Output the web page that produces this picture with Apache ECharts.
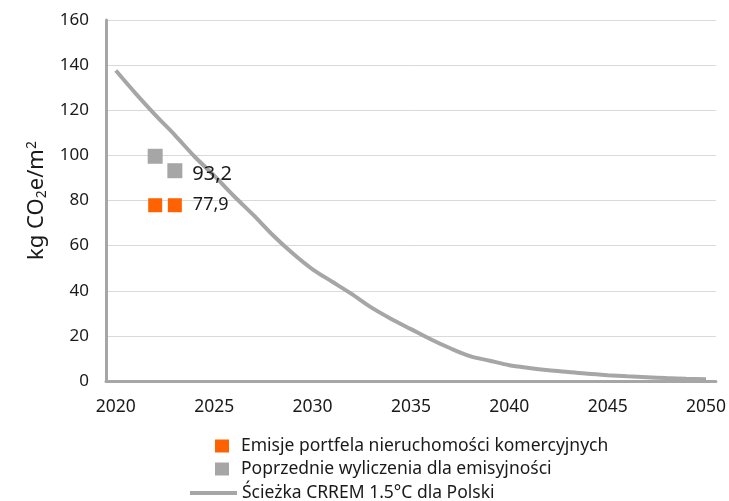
<!DOCTYPE html>
<html>
<head>
<meta charset="utf-8">
<script src="https://cdn.jsdelivr.net/npm/echarts@6/dist/echarts.min.js"></script>
<style>html,body{margin:0;padding:0;background:#fff;}#c{width:729px;height:501px;}</style>
</head>
<body>
<div id="c"></div>
<script>
const years = [];
for (let y = 2020; y <= 2050; y++) years.push(String(y));
const pathValues = [137.6, 127.5, 118, 109, 99.5, 91, 82, 73.5, 64.5, 56.5, 49.5, 44, 38.5, 32.5, 27.5, 23, 18.5, 14.5, 11, 9, 7, 5.8, 4.8, 4, 3.2, 2.6, 2.1, 1.7, 1.3, 1, 0.8];
const portfolioYears = ['2022', '2023'];
const portfolioValues = [77.9, 77.9];
const previousYears = ['2022', '2023'];
const previousValues = [99.6, 93.2];
const seriesNames = ['Emisje portfela nieruchomości komercyjnych', 'Poprzednie wyliczenia dla emisyjności', 'Ścieżka CRREM 1.5°C dla Polski'];

const FONT = 'Noto Sans';
const TXT = '#1a1a1a';
const fmt = v => String(v).replace('.', ',');

function pts(xs, vs, labelIdx, labelStyle) {
  return xs.map((x, i) => {
    const item = { value: [x, vs[i]] };
    if (i === labelIdx) item.label = Object.assign({ show: true, position: 'right', formatter: p => fmt(p.value[1]) }, labelStyle);
    return item;
  });
}

const legendText = { fontSize: 17.5, color: TXT, fontFamily: FONT };
const chart = echarts.init(document.getElementById('c'));
chart.setOption({
  animation: false,
  textStyle: { fontFamily: FONT },
  grid: { left: 106, right: 11, top: 20, bottom: 120 },
  legend: [
    { data: [seriesNames[0]], left: 210, top: 432, itemWidth: 14, itemHeight: 13, icon: 'rect', textStyle: Object.assign({ padding: [0, 0, 0, 7] }, legendText) },
    { data: [seriesNames[1]], left: 210, top: 455, itemWidth: 14, itemHeight: 13, icon: 'rect', textStyle: Object.assign({ padding: [0, 0, 0, 7] }, legendText) },
    { data: [seriesNames[2]], left: 185, top: 479, itemWidth: 47, itemHeight: 4, icon: 'rect', textStyle: Object.assign({ padding: [0, 0, 0, 0] }, legendText) }
  ],
  xAxis: {
    type: 'category', data: years, boundaryGap: true,
    axisLine: { lineStyle: { color: '#a6a6a6', width: 3 } },
    axisTick: { show: false },
    axisLabel: { interval: 4, color: TXT, fontSize: 17.5, margin: 17, fontFamily: FONT },
    splitLine: { show: false }
  },
  yAxis: {
    type: 'value', min: 0, max: 160, interval: 20,
    name: 'kg CO{sub|2}e/m{sup|2}',
    nameLocation: 'middle', nameRotate: 90, nameGap: 56,
    nameTextStyle: { fontSize: 22, color: TXT, fontFamily: FONT,
      rich: { sub: { fontSize: 14, verticalAlign: 'bottom', padding: [10, 0, 0, 0], fontFamily: FONT, color: TXT },
              sup: { fontSize: 14, verticalAlign: 'top', padding: [0, 0, 10, 0], fontFamily: FONT, color: TXT } } },
    axisLine: { show: true, lineStyle: { color: '#a6a6a6', width: 3 } },
    axisTick: { show: false },
    axisLabel: { color: TXT, fontSize: 17, margin: 17, fontFamily: FONT },
    splitLine: { lineStyle: { color: '#d9d9d9', width: 1 } }
  },
  series: [
    {
      name: seriesNames[0], type: 'scatter', symbol: 'rect', symbolSize: 14,
      itemStyle: { color: '#ff6200', opacity: 1 },
      data: pts(portfolioYears, portfolioValues, 1, { fontSize: 18, color: TXT, distance: 11, offset: [0, 0] }),
      z: 3
    },
    {
      name: seriesNames[1], type: 'scatter', symbol: 'rect', symbolSize: 15,
      itemStyle: { color: '#a6a6a6', opacity: 1 },
      data: pts(previousYears, previousValues, 1, { fontSize: 20, color: TXT, distance: 10, offset: [0, 4] }),
      z: 3
    },
    {
      name: seriesNames[2], type: 'line', data: pathValues, showSymbol: false, symbol: 'none', smooth: 0.3,
      lineStyle: { color: '#a6a6a6', width: 4 }, itemStyle: { color: '#a6a6a6' }, z: 2
    }
  ]
});
</script>
</body>
</html>
